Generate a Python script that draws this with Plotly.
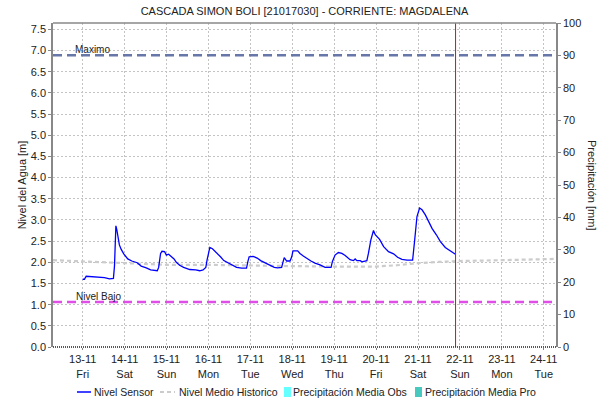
import pandas as pd
import plotly.graph_objects as go

# Sensor readings: hours after 13-11-2020 00:00 and water level [m]
sensor_hours = [0, 1, 2, 12.5, 15.3, 17.6, 18.2, 18.6, 19, 19.5, 20.1, 21, 22, 23.5,
                25.8, 28.1, 31.2, 33.5, 36.4, 38.9, 42.7, 43.5, 44.6, 45.4, 46.9, 47.9,
                49.2, 50.8, 52.3, 53.6, 55.5, 57.8, 61.3, 64.7, 67, 68.9, 70.5, 71.2,
                72.2, 72.8, 74.3, 76.6, 78.9, 80.8, 83.3, 85.8, 88.1, 91, 93.8, 94.6,
                95.3, 97.6, 99.9, 101.9, 104.3, 107.2, 109.7, 111.6, 113.9, 114.8, 115.4,
                116.8, 118.7, 119.7, 120.4, 123.1, 124.4, 126.3, 128.3, 130.7, 133,
                135.9, 138.8, 142.2, 143, 144.5, 146.4, 148.4, 150.3, 153.1, 155, 156,
                157, 158.9, 159.9, 161.3, 162.7, 163.6, 165, 166.5, 167.5, 170, 172.3,
                175.1, 178, 180.3, 182.8, 185.7, 188.9, 189.9, 191.4, 192.9, 194.3,
                196.2, 198.1, 200, 202.5, 204.8, 207.6, 210.2, 213.4]
sensor_level = [1.60, 1.60, 1.67, 1.64, 1.61, 1.62, 1.91, 2.53, 2.86, 2.78, 2.61, 2.41,
                2.31, 2.20, 2.08, 2.03, 1.99, 1.91, 1.87, 1.82, 1.80, 1.88, 2.21, 2.26,
                2.25, 2.17, 2.19, 2.13, 2.08, 2.00, 1.93, 1.88, 1.83, 1.82, 1.80, 1.82,
                1.88, 2.05, 2.29, 2.35, 2.32, 2.23, 2.13, 2.04, 1.99, 1.93, 1.88, 1.86,
                1.86, 2.02, 2.13, 2.14, 2.10, 2.04, 1.99, 1.93, 1.88, 1.87, 1.88, 2.02,
                2.11, 2.03, 2.03, 2.13, 2.27, 2.27, 2.21, 2.15, 2.09, 2.03, 1.98, 1.94,
                1.88, 1.88, 2.02, 2.17, 2.23, 2.21, 2.16, 2.06, 2.04, 2.08, 2.04, 2.04,
                2.01, 2.03, 2.04, 2.21, 2.53, 2.75, 2.65, 2.54, 2.37, 2.25, 2.20, 2.12,
                2.07, 2.05, 2.05, 2.45, 3.08, 3.28, 3.24, 3.12, 2.96, 2.80, 2.65, 2.49,
                2.35, 2.27, 2.19]

# Historic mean level
hist_hours = [-17, 0, 12, 24, 48, 72, 96, 120, 144, 168, 180, 192, 204, 216, 240, 264, 271]
hist_level = [2.05, 2.02, 2.00, 1.98, 1.94, 1.94, 1.92, 1.91, 1.90, 1.90, 1.93, 1.98,
              2.01, 2.03, 2.05, 2.07, 2.08]

# Reference levels [m]
nivel_maximo = 6.89
nivel_bajo = 1.06
now_hour = 213.5

# Day ticks
tick_days = ["13-11", "14-11", "15-11", "16-11", "17-11", "18-11",
             "19-11", "20-11", "21-11", "22-11", "23-11", "24-11"]
tick_weekdays = ["Fri", "Sat", "Sun", "Mon", "Tue", "Wed",
                 "Thu", "Fri", "Sat", "Sun", "Mon", "Tue"]

t0 = pd.Timestamp("2020-11-13 00:00")
to_time = lambda hours: [t0 + pd.Timedelta(hours=h) for h in hours]
tick_vals = [t0 + pd.Timedelta(days=i) for i in range(len(tick_days))]
tick_text = [f"{d}<br>{w}" for d, w in zip(tick_days, tick_weekdays)]

FONT = "Liberation Sans, Arial, sans-serif"
x_start = t0 + pd.Timedelta(hours=-17)
x_end = t0 + pd.Timedelta(hours=271)

fig = go.Figure()
fig.add_trace(go.Scatter(x=to_time(hist_hours), y=hist_level, mode="lines",
                         line=dict(color="#cccccc", width=2.2, dash="4px,3px"),
                         showlegend=False, hoverinfo="skip"))
fig.add_trace(go.Scatter(x=to_time(sensor_hours), y=sensor_level, mode="lines",
                         line=dict(color="#0000ff", width=1.3), showlegend=False))

# threshold lines
fig.add_hline(y=nivel_maximo, line=dict(color="#6777a8", width=2.5, dash="9px,5px"))
fig.add_hline(y=nivel_bajo, line=dict(color="#e04ee8", width=2.5, dash="9px,5px"))
fig.add_annotation(x=0.040, xref="paper", y=nivel_maximo, yref="y", text="Maximo",
                   showarrow=False, xanchor="left", yanchor="bottom", yshift=-2,
                   font=dict(family=FONT, size=10, color="#222"))
fig.add_annotation(x=0.041, xref="paper", y=nivel_bajo, yref="y", text="Nivel Bajo",
                   showarrow=False, xanchor="left", yanchor="bottom", yshift=-2,
                   font=dict(family=FONT, size=10, color="#222"))

# current time marker
now_t = t0 + pd.Timedelta(hours=now_hour)
fig.add_shape(type="line", x0=now_t, x1=now_t, xref="x", y0=0, y1=1, yref="paper",
              line=dict(color="#d01010", width=1))

# frame: top solid, bottom dotted
fig.add_shape(type="line", x0=0, x1=1, xref="paper", y0=1, y1=1, yref="paper",
              line=dict(color="#888888", width=1.5))
fig.add_shape(type="line", x0=0, x1=1, xref="paper", y0=0, y1=0, yref="paper",
              line=dict(color="#222222", width=1.5, dash="1px,1px"))

# precipitation axis (empty traces register the right axis)
fig.add_trace(go.Bar(x=[], y=[], yaxis="y2", marker_color="#66ffff", showlegend=False))
fig.add_trace(go.Bar(x=[], y=[], yaxis="y2", marker_color="#47c9c0", showlegend=False))

# legend drawn along the bottom
def paper_x(px):
    return (px - 53) / 503

def paper_y(py):
    return (347 - py) / 324

legend_items = [
    ("line", "#0000ff", None, "Nivel Sensor", 77, 91, 92),
    ("line", "#cccccc", "4px,3px", "Nivel Medio Historico", 160, 175, 177),
    ("box", "#66ffff", None, "Precipitación Media Obs", 284, 291, 291),
    ("box", "#47c9c0", None, "Precipitación Media Pro", 415, 422, 423),
]
ly = 392
for kind, color, dash, label, xa, xb, xt in legend_items:
    if kind == "line":
        fig.add_shape(type="line", xref="paper", yref="paper",
                      x0=paper_x(xa), x1=paper_x(xb), y0=paper_y(ly), y1=paper_y(ly),
                      line=dict(color=color, width=1.5 if dash is None else 2.2, dash=dash))
    else:
        fig.add_shape(type="rect", xref="paper", yref="paper",
                      x0=paper_x(xa), x1=paper_x(xb), y0=paper_y(ly - 5), y1=paper_y(ly + 5),
                      line=dict(width=0), fillcolor=color, layer="above")
    fig.add_annotation(x=paper_x(xt), y=paper_y(ly), xref="paper", yref="paper",
                       text=label, showarrow=False, xanchor="left", yanchor="middle",
                       font=dict(family=FONT, size=10.5, color="#222"))

# right axis title reads top to bottom
fig.add_annotation(x=paper_x(590), y=paper_y(185), xref="paper", yref="paper",
                   text="Precipitación [mm]", showarrow=False, textangle=90, xshift=10,
                   font=dict(family=FONT, size=11, color="#222"))

fig.update_layout(
    width=605, height=403,
    margin=dict(l=53, r=49, t=23, b=56),
    paper_bgcolor="white", plot_bgcolor="white",
    font=dict(family=FONT, size=11, color="#222"),
    title=dict(text="CASCADA SIMON BOLI [21017030] - CORRIENTE: MAGDALENA",
               x=0.5, xref="paper", xanchor="center", y=0.972, yanchor="middle",
               font=dict(family=FONT, size=11, color="#222")),
    showlegend=False,
    xaxis=dict(range=[x_start, x_end], tickvals=tick_vals, ticktext=tick_text,
               showgrid=True, gridcolor="#c4c4c4", griddash="2px,2px", gridwidth=1,
               showline=False, ticks="outside", ticklen=2, tickcolor="#888",
               tickfont=dict(family=FONT, size=11), zeroline=False),
    yaxis=dict(range=[0, 7.65], dtick=0.5, tickformat=".1f",
               showgrid=True, gridcolor="#c4c4c4", griddash="2px,2px", gridwidth=1,
               showline=True, linecolor="#888", linewidth=1.5, ticks="outside",
               ticklen=3, tickcolor="#888", zeroline=False,
               title=dict(text="Nivel del Agua [m]", font=dict(family=FONT, size=11),
                          standoff=2)),
    yaxis2=dict(range=[0, 100], dtick=10, overlaying="y", side="right",
                showgrid=False, showline=True, linecolor="#888", linewidth=1.5,
                ticks="outside", ticklen=3, tickcolor="#888", zeroline=False),
)

fig.write_html("out.html")
